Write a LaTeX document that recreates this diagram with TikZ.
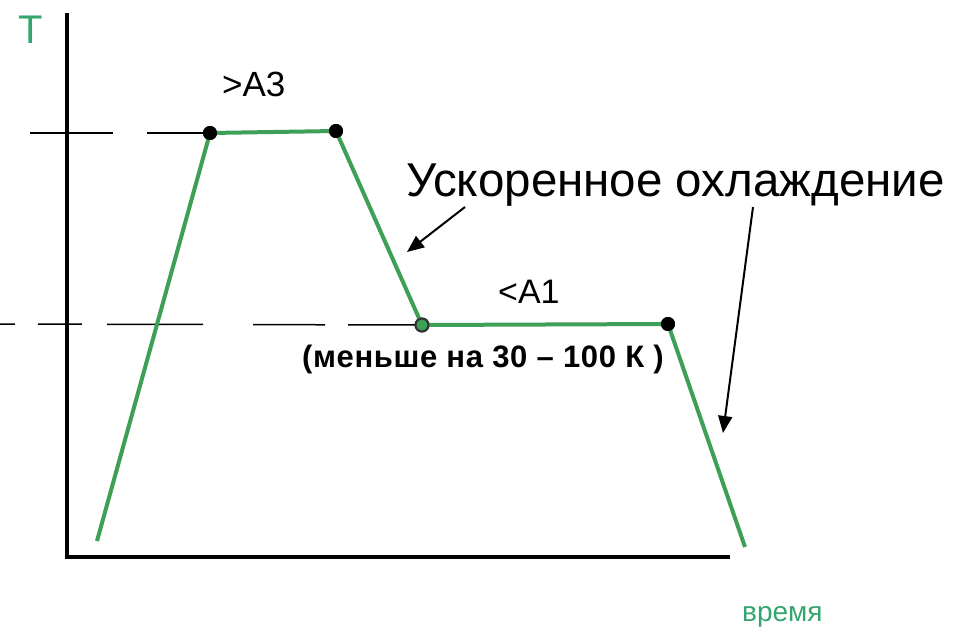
\documentclass[tikz,border=0pt]{standalone}
\usepackage{fontspec}
\setmainfont{Liberation Sans}
\newfontfamily\spacedbold[LetterSpace=2]{Liberation Sans}
\usetikzlibrary{arrows.meta}
\definecolor{curvegreen}{RGB}{62,160,86}
\definecolor{labelgreen}{RGB}{52,165,110}
\tikzset{
  axisline/.style={line width=3.8pt, black},
  guide/.style={line width=1.5pt, black},
  curve/.style={line width=4pt, curvegreen, line join=round},
  pointer/.style={line width=2pt, black, -{Triangle[length=17pt,width=14pt]}},
  blackdot/.style={circle, fill=black, inner sep=0pt, minimum size=14pt},
  greendot/.style={circle, fill=curvegreen, draw=black!80, line width=2pt, inner sep=0pt, minimum size=13pt},
  lbl/.style={inner sep=0pt, anchor=base west},
}
\begin{document}
\begin{tikzpicture}[x=1pt,y=-1pt]
\useasboundingbox (0,0) rectangle (967,634);
% axes
\coordinate (ytop) at (67,13);
\coordinate (origin) at (67,557);
\coordinate (xend) at (730,557);
\draw[axisline] (ytop) -- (origin) -- (xend);
% curve points
\coordinate (s) at (97,541);
\node[blackdot] (p1) at (210,133) {};
\node[blackdot] (p2) at (336,131) {};
\node[greendot] (p3) at (422,325) {};
\node[blackdot] (p4) at (668,324) {};
\coordinate (e) at (745,547);
% dashed guides
\coordinate (g1) at (30,133);
\coordinate (g2) at (0,324);
\draw[guide, dash pattern=on 83pt off 34pt on 200pt] (g1) -- (p1.center);
\draw[guide, dash pattern=on 15pt off 23pt on 44pt off 25pt on 96pt off 50pt on 72pt off 23pt on 200pt] (g2) -- (p3.center);
% curve
\draw[curve] (s) -- (p1.center) -- (p2.center) -- (p3.center) -- (p4.center) -- (e);
\node[blackdot] at (p1) {};
\node[blackdot] at (p2) {};
\node[greendot] at (p3) {};
\node[blackdot] at (p4) {};
% labels
\node[lbl, text=labelgreen, font=\fontsize{40}{44}\selectfont] (tl) at (18,44) {T};
\node[lbl, text=labelgreen, font=\fontsize{28}{32}\selectfont] (tm) at (742,621) {время};
\node[lbl, font=\fontsize{35}{40}\selectfont] (a3) at (222,96) {>A3};
\node[lbl, font=\fontsize{34}{40}\selectfont] (a1) at (498,303) {<A1};
\node[lbl, font=\fontsize{47.5}{52}\selectfont] (cool) at (406,196) {Ускоренное охлаждение};
\node[lbl, font=\spacedbold\bfseries\fontsize{31}{36}\selectfont] (note) at (302,367) {(меньше на 30 – 100 К )};
% pointers
\coordinate (q1) at (465,207);
\coordinate (t1) at (407,252);
\coordinate (q2) at (753,207);
\coordinate (t2) at (723,433);
\draw[pointer] (q1) -- (t1);
\draw[pointer] (q2) -- (t2);
\end{tikzpicture}
\end{document}
